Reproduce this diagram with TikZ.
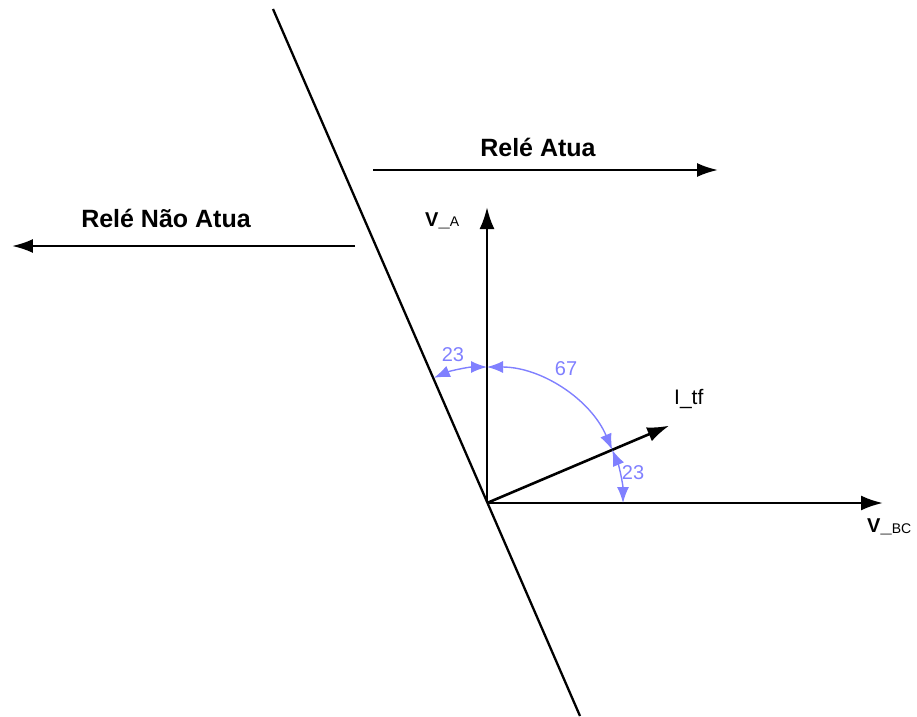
\documentclass[tikz,border=0pt]{standalone}
\usepackage{fontspec}
\setmainfont{Liberation Sans}
\usepackage{xcolor}
\usetikzlibrary{arrows.meta}

\definecolor{angblue}{RGB}{128,128,255}

\begin{document}
\begin{tikzpicture}[
  x=1pt, y=1pt,
  vec/.style={-{Latex[length=22pt,width=15pt]}, line width=2.6pt},
  arr/.style={-{Latex[length=21pt,width=14pt]}, line width=2.3pt},
  bound/.style={line width=2.3pt},
  ang/.style={{Latex[length=16pt,width=12pt]}-{Latex[length=16pt,width=12pt]}, angblue, line width=1.4pt},
  angnum/.style={text=angblue, font=\fontsize{20}{20}\selectfont, inner sep=0pt},
  rele/.style={font=\bfseries\fontsize{25}{25}\selectfont, anchor=base, inner sep=0pt},
  vlbl/.style={font=\fontsize{20}{20}\selectfont, anchor=base west, inner sep=0pt},
  ilbl/.style={font=\fontsize{21}{21}\selectfont, anchor=base west, inner sep=0pt}
]
\useasboundingbox (-487,-213) rectangle (430,503);

\coordinate (O) at (0,0);
\coordinate (vaTip) at (0,296);
\coordinate (vbcTip) at (396,0);
\coordinate (itfTip) at (23:198pt);
\coordinate (ltop) at (-214,494);
\coordinate (lbot) at (93,-213);

% fronteira
\draw[bound] (ltop) -- (lbot);

% fasores
\draw[vec] (O) -- (vaTip);
\draw[vec] (O) -- (vbcTip);
\draw[vec] (O) -- (itfTip);

\node[vlbl] (va) at (-62,277) {\textbf{V\_}{\fontsize{14}{14}\selectfont A}};
\node[vlbl] (vbc) at (380,-29) {\textbf{V\_}\raisebox{-1.5pt}{\fontsize{14}{14}\selectfont BC}};
\node[ilbl] (itf) at (187,99) {I\_tf};

% angulos
\draw[ang] (113:136pt) arc[start angle=113, end angle=90, radius=136pt];
\draw[ang] (90:136pt) arc[start angle=90, end angle=23, radius=136pt];
\draw[ang] (23:136pt) arc[start angle=23, end angle=0, radius=136pt];
\node[angnum] (a23l) at (-34,148) {23};
\node[angnum] (a67) at (79,134) {67};
\node[angnum] (a23r) at (146,30) {23};

% regioes
\coordinate (atuaL) at (-114,333);
\coordinate (atuaR) at (231,333);
\draw[arr] (atuaL) -- (atuaR);
\node[rele] (atua) at (51,347) {Relé Atua};

\coordinate (naoR) at (-132,257);
\coordinate (naoL) at (-475,257);
\draw[arr] (naoR) -- (naoL);
\node[rele] (nao) at (-321,276) {Relé Não Atua};
\end{tikzpicture}
\end{document}
